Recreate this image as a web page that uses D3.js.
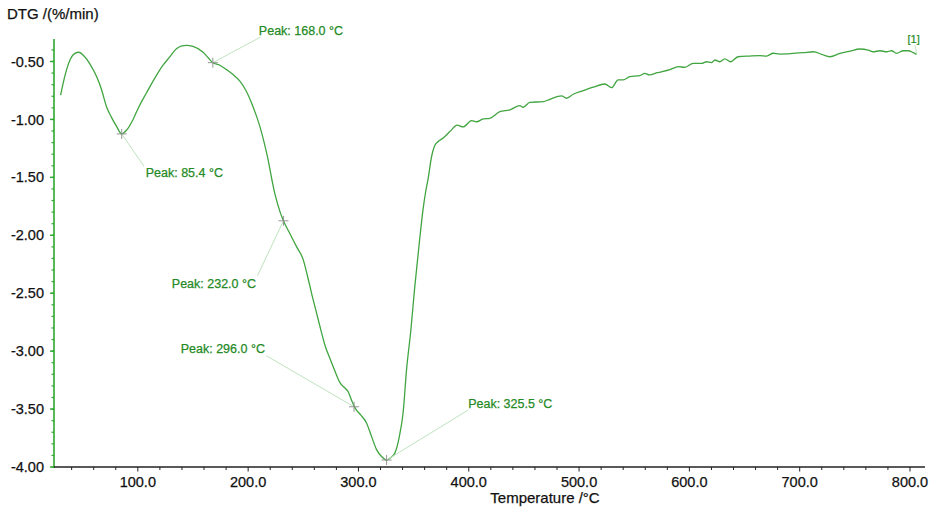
<!DOCTYPE html>
<html>
<head>
<meta charset="utf-8">
<script src="https://cdn.jsdelivr.net/npm/d3@7"></script>
<style>
  html, body { margin: 0; padding: 0; background: #fff; }
  svg { display: block; font-family: "Liberation Sans", Arial, sans-serif; }
</style>
</head>
<body>
<svg id="chart" width="936" height="511"></svg>
<script>
// ---- data ----
const temperature = [30,34,38.4,43,46.8,51,56.5,62.6,67,71.6,76,80.7,85.4,90,95.7,101,107.9,115,123,129,135,140,144,150,159.2,164,168,174,180.4,186,192.5,198,204,210.6,217,224.2,229,232,237,244,249.9,254,258,262,266,270,274,279,283.1,288,290.7,294,297.6,302,307.3,312,316.4,321,325.5,329,333,337,340.5,343.6,347.5,351,355,358.5,361,363.2,366.3,369,372.3,376.8,382.9,389.5,395,402.5,407,413,419,428.2,437.3,446.3,449.3,455.4,467.5,473.5,484.1,488.6,494.7,503.7,512.8,523.4,529.4,535.5,540,546,555.1,559.7,563.6,571,582.3,590,596,603.4,611,615.6,620,623.1,627.6,632.1,637.3,644.1,654.8,663.9,670,676,682,688.1,694.1,703,712.4,720,727.4,736.5,745.6,754.6,762.1,766.7,772.7,778.8,783.3,787.8,793.9,798.4,803,806];
const dtg = [-0.79,-0.62,-0.49,-0.43,-0.42,-0.45,-0.52,-0.63,-0.74,-0.89,-0.98,-1.06,-1.125,-1.09,-1.00,-0.89,-0.77,-0.65,-0.53,-0.46,-0.39,-0.365,-0.36,-0.37,-0.42,-0.47,-0.51,-0.53,-0.57,-0.61,-0.67,-0.75,-0.88,-1.06,-1.30,-1.64,-1.80,-1.875,-1.97,-2.10,-2.21,-2.36,-2.52,-2.67,-2.82,-2.96,-3.06,-3.18,-3.27,-3.32,-3.35,-3.43,-3.50,-3.55,-3.62,-3.74,-3.85,-3.91,-3.94,-3.92,-3.88,-3.74,-3.53,-3.16,-2.82,-2.45,-2.08,-1.78,-1.62,-1.51,-1.32,-1.23,-1.19,-1.16,-1.105,-1.05,-1.065,-1.01,-1.02,-0.996,-0.99,-0.933,-0.918,-0.881,-0.895,-0.852,-0.847,-0.826,-0.797,-0.817,-0.783,-0.752,-0.722,-0.694,-0.726,-0.659,-0.659,-0.631,-0.622,-0.602,-0.616,-0.597,-0.57,-0.545,-0.55,-0.516,-0.516,-0.502,-0.51,-0.487,-0.502,-0.478,-0.502,-0.459,-0.453,-0.45,-0.453,-0.429,-0.436,-0.435,-0.429,-0.424,-0.416,-0.438,-0.459,-0.43,-0.41,-0.392,-0.401,-0.416,-0.407,-0.416,-0.407,-0.43,-0.407,-0.407,-0.424,-0.438];
const peakTemps = [85.4, 168.0, 232.0, 296.0, 325.5];
const peakValues = [-1.125, -0.51, -1.875, -3.48, -3.94];
const peakLabels = ["Peak: 85.4 °C", "Peak: 168.0 °C", "Peak: 232.0 °C", "Peak: 296.0 °C", "Peak: 325.5 °C"];
const xTicks = [100, 200, 300, 400, 500, 600, 700, 800];
const yTicks = [-0.5, -1.0, -1.5, -2.0, -2.5, -3.0, -3.5, -4.0];
const yTitle = "DTG /(%/min)";
const xTitle = "Temperature /°C";
const curveTag = "[1]";

// ---- layout ----
const svg = d3.select("#chart");
const plotLeft = 54, plotBottom = 467, plotTop = 39, plotRight = 925;
const x = d3.scaleLinear().domain([24, 813.6]).range([plotLeft, plotRight]);
const y = d3.scaleLinear().domain([-4.0, -0.5]).range([plotBottom, 61.5]);
const yTopVal = y.invert(plotTop);

const green = "#40a540";
const labelGreen = "#258a25";
const textCol = "#111";

// Y axis (green)
const yMinor = d3.range(-4.0, yTopVal + 1e-9, 0.1).map(v => +v.toFixed(2));
const gy = svg.append("g");
gy.append("line").attr("x1", plotLeft).attr("x2", plotLeft).attr("y1", plotTop).attr("y2", plotBottom + 1)
  .attr("stroke", "#2ea82e").attr("stroke-width", 1.6);
gy.selectAll("line.minor").data(yMinor).join("line").attr("class", "minor")
  .attr("x1", plotLeft - 2.5).attr("x2", plotLeft).attr("y1", d => y(d)).attr("y2", d => y(d))
  .attr("stroke", "#2ea82e").attr("stroke-width", 1.2);
gy.selectAll("line.major").data(yTicks).join("line").attr("class", "major")
  .attr("x1", plotLeft - 4).attr("x2", plotLeft).attr("y1", d => y(d)).attr("y2", d => y(d))
  .attr("stroke", "#2ea82e").attr("stroke-width", 1.4);
gy.selectAll("text").data(yTicks).join("text")
  .attr("x", plotLeft - 10).attr("y", d => y(d)).attr("dy", "0.35em")
  .attr("text-anchor", "end").attr("font-size", 14.5).attr("fill", textCol)
  .attr("stroke", textCol).attr("stroke-width", 0.25)
  .text(d => d.toFixed(2));

// X axis (black)
const xMinor = d3.range(40, 813, 20);
const gx = svg.append("g");
gx.append("line").attr("x1", plotLeft).attr("x2", plotRight).attr("y1", plotBottom).attr("y2", plotBottom)
  .attr("stroke", "#222").attr("stroke-width", 1.3);
gx.selectAll("line.minor").data(xMinor).join("line").attr("class", "minor")
  .attr("x1", d => x(d)).attr("x2", d => x(d)).attr("y1", plotBottom).attr("y2", d => plotBottom + (d % 100 === 0 ? 4.5 : 3))
  .attr("stroke", "#222").attr("stroke-width", 1);
gx.selectAll("text").data(xTicks).join("text")
  .attr("x", d => x(d)).attr("y", 482).attr("dy", "0.35em")
  .attr("text-anchor", "middle").attr("font-size", 14.5).attr("fill", textCol)
  .attr("stroke", textCol).attr("stroke-width", 0.25)
  .text(d => d.toFixed(1));

// titles
svg.append("text").attr("x", 7).attr("y", 19).attr("font-size", 15).attr("fill", textCol)
  .attr("stroke", textCol).attr("stroke-width", 0.25).text(yTitle);
svg.append("text").attr("x", 545).attr("y", 503).attr("text-anchor", "middle").attr("font-size", 15).attr("fill", textCol)
  .attr("stroke", textCol).attr("stroke-width", 0.25).text(xTitle);

// curve
const pts = temperature.map((t, i) => [t, dtg[i]]);
const line = d3.line().x(d => x(d[0])).y(d => y(d[1])).curve(d3.curveMonotoneX);
svg.append("path").datum(pts).attr("d", line)
  .attr("fill", "none").attr("stroke", green).attr("stroke-width", 1.3);

// peak annotations (pixel offsets of label start and leader end from the marker)
const labelOffsets = [
  {tx: 24, ty: 39, lx: 22.3, ly: 32.4},
  {tx: 46, ty: -32.3, lx: 47.7, ly: -25.6},
  {tx: -111.6, ty: 63.3, lx: -26, ly: 55},
  {tx: -173.3, ty: -58.3, lx: -87.7, ly: -51},
  {tx: 81.6, ty: -56.7, lx: 81.6, ly: -50}
];
const ga = svg.append("g");
peakTemps.forEach((t, i) => {
  const px = x(t), py = y(peakValues[i]);
  const o = labelOffsets[i];
  ga.append("line").attr("x1", px).attr("y1", py).attr("x2", px + o.lx).attr("y2", py + o.ly)
    .attr("stroke", "#bfe3bf").attr("stroke-width", 1);
  ga.append("path").attr("d", `M${px - 5},${py}H${px + 5}M${px},${py - 5}V${py + 5}`)
    .attr("stroke", "#8a8a8a").attr("stroke-width", 0.9).attr("fill", "none");
  ga.append("text").attr("x", px + o.tx).attr("y", py + o.ty).attr("dy", "0.35em")
    .attr("font-size", 12.5).attr("fill", labelGreen)
    .attr("stroke", labelGreen).attr("stroke-width", 0.25).text(peakLabels[i]);
});

// curve tag [1]
const last = pts[pts.length - 1];
const ex = x(last[0]), ey = y(last[1]);
svg.append("line").attr("x1", ex).attr("y1", ey - 1).attr("x2", ex - 1.5).attr("y2", ey - 9)
  .attr("stroke", "#bfe3bf").attr("stroke-width", 1);
svg.append("text").attr("x", ex - 3).attr("y", ey - 15).attr("dy", "0.35em")
  .attr("text-anchor", "middle").attr("font-size", 11).attr("fill", labelGreen)
  .attr("stroke", labelGreen).attr("stroke-width", 0.2).text(curveTag);
</script>
</body>
</html>
